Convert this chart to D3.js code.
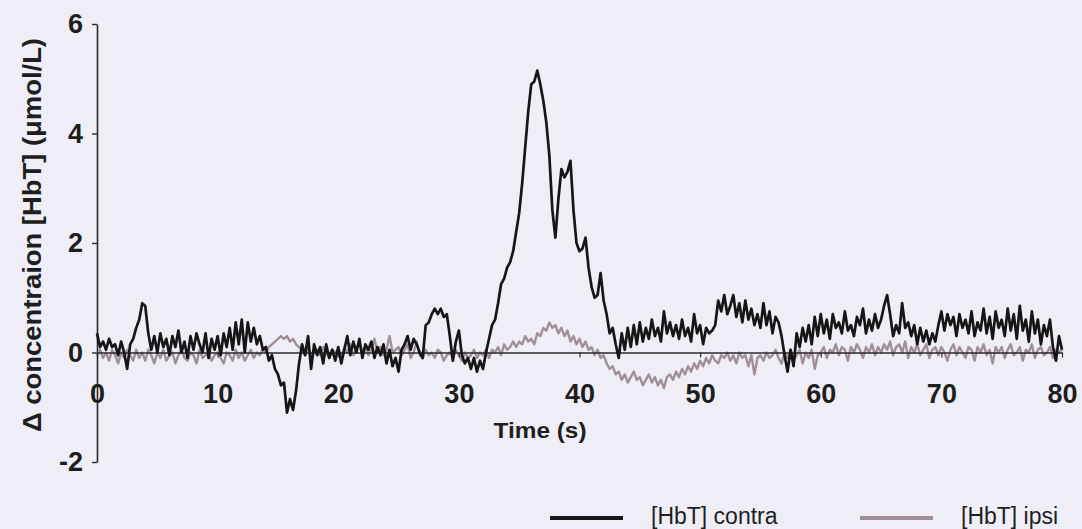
<!DOCTYPE html>
<html>
<head>
<meta charset="utf-8">
<script src="https://cdn.jsdelivr.net/npm/d3@7"></script>
<style>
    body { margin: 0; background: #efeef6; }
    svg { display: block; font-family: "Liberation Sans", Arial, sans-serif; }
    .tick text { font-weight: bold; fill: #1e1e1e; }
</style>
</head>
<body>
<svg></svg>
<script>
// time step of the recording (s)
let dt = 0.25;

// [HbT] contra, one value per 0.25 s, one row = 5 s
let contra = [
    0.35, 0.1, 0.2, 0.05, 0.25, 0.1, 0.15, -0.05, 0.2, 0.0, -0.3, 0.15, 0.25, 0.45, 0.6, 0.9, 0.85, 0.35, 0.05, 0.3,
    0.0, 0.35, 0.1, 0.25, -0.05, 0.3, 0.1, 0.4, 0.0, 0.2, -0.1, 0.3, 0.05, 0.35, 0.15, 0.0, 0.35, -0.1, 0.25, 0.05,
    0.3, -0.05, 0.35, 0.1, 0.45, 0.05, 0.55, 0.15, 0.6, 0.0, 0.55, 0.2, 0.45, 0.15, 0.3, 0.05, 0.1, -0.15, -0.05, -0.3,
    -0.4, -0.6, -0.55, -1.1, -0.85, -1.05, -0.7, -0.2, 0.15, -0.05, 0.3, -0.3, 0.15, -0.05, 0.1, -0.2, 0.15, -0.1, 0.05, -0.15,
    0.1, -0.2, 0.05, 0.3, -0.05, 0.2, 0.0, 0.25, -0.1, 0.15, 0.05, 0.2, -0.1, 0.1, -0.05, 0.15, -0.2, 0.05, -0.25, -0.1,
    -0.35, 0.05, 0.15, 0.3, 0.05, 0.25, 0.15, 0.0, -0.1, 0.5, 0.55, 0.7, 0.8, 0.7, 0.8, 0.65, 0.7, 0.3, -0.15, 0.2,
    0.4, -0.05, -0.2, -0.1, -0.3, -0.1, -0.35, -0.15, -0.3, 0.0, 0.25, 0.5, 0.6, 0.9, 1.25, 1.35, 1.55, 1.65, 1.85, 2.2,
    2.55, 3.1, 3.75, 4.4, 4.9, 4.95, 5.15, 4.9, 4.6, 4.2, 3.6, 2.6, 2.1, 2.8, 3.35, 3.2, 3.3, 3.5, 2.6, 2.0,
    1.85, 1.9, 2.1, 1.55, 1.2, 1.0, 1.05, 1.45, 0.95, 0.7, 0.35, 0.45, 0.15, -0.1, 0.35, 0.05, 0.45, 0.1, 0.5, 0.15,
    0.55, 0.2, 0.45, 0.25, 0.6, 0.3, 0.45, 0.2, 0.75, 0.35, 0.55, 0.3, 0.5, 0.25, 0.6, 0.3, 0.45, 0.2, 0.7, 0.35,
    0.5, 0.15, 0.45, 0.35, 0.4, 0.5, 0.95, 0.75, 1.05, 0.7, 0.85, 1.05, 0.65, 0.9, 0.55, 0.95, 0.6, 0.8, 0.5, 0.7,
    0.45, 0.9, 0.5, 0.75, 0.35, 0.65, 0.55, 0.3, -0.05, -0.35, 0.05, -0.25, 0.35, 0.1, 0.45, 0.2, 0.5, 0.15, 0.65, 0.3,
    0.7, 0.35, 0.6, 0.25, 0.7, 0.45, 0.55, 0.35, 0.75, 0.4, 0.5, 0.3, 0.65, 0.5, 0.8, 0.35, 0.6, 0.4, 0.7, 0.45,
    0.6, 0.85, 1.05, 0.7, 0.3, 0.5, 0.35, 0.9, 0.45, 0.55, 0.3, 0.5, 0.15, 0.45, 0.2, 0.4, 0.15, 0.35, 0.2, 0.5,
    0.75, 0.4, 0.7, 0.5, 0.65, 0.3, 0.7, 0.45, 0.6, 0.35, 0.75, 0.3, 0.55, 0.4, 0.8, 0.35, 0.65, 0.25, 0.75, 0.45,
    0.6, 0.3, 0.8, 0.4, 0.7, 0.25, 0.85, 0.4, 0.6, 0.2, 0.75, 0.35, 0.6, 0.15, 0.5, 0.3, 0.6, 0.1, -0.15, 0.3,
    0.05
];

// [HbT] ipsi, same time base
let ipsi = [
    -0.05, 0.05, -0.1, 0.0, -0.15, 0.05, -0.05, -0.2, 0.0, -0.1, 0.05, -0.05, -0.15, 0.05, -0.1, 0.0, -0.15, 0.05, -0.05, -0.2,
    0.0, -0.1, 0.05, -0.15, -0.05, 0.0, -0.2, -0.05, 0.05, -0.1, -0.15, 0.0, -0.05, -0.2, 0.05, -0.1, -0.05, 0.0, -0.15, -0.05,
    0.0, -0.1, -0.2, 0.0, -0.05, -0.15, 0.05, -0.1, 0.0, -0.15, -0.05, 0.05, -0.1, 0.0, -0.05, 0.05, 0.0, 0.1, 0.15, 0.2,
    0.25, 0.3, 0.25, 0.3, 0.2, 0.25, 0.15, 0.1, 0.05, -0.05, 0.1, -0.1, 0.0, 0.05, -0.05, 0.1, 0.0, -0.1, 0.05, 0.0,
    0.05, -0.1, 0.1, 0.0, 0.15, -0.05, 0.05, 0.2, 0.0, 0.1, -0.05, 0.05, 0.25, 0.0, 0.1, -0.05, 0.05, 0.3, 0.0, 0.05,
    0.1, -0.05, 0.05, 0.15, -0.1, 0.0, 0.2, -0.05, -0.1, 0.05, -0.05, 0.0, -0.1, 0.05, 0.0, -0.15, -0.05, 0.0, -0.1, 0.05,
    -0.05, -0.15, 0.0, -0.1, -0.05, 0.05, -0.1, 0.0, -0.05, 0.05, -0.1, 0.05, 0.0, 0.1, -0.05, 0.15, 0.05, 0.1, 0.2, 0.1,
    0.2, 0.15, 0.3, 0.2, 0.25, 0.15, 0.35, 0.3, 0.45, 0.4, 0.55, 0.45, 0.5, 0.35, 0.45, 0.3, 0.4, 0.2, 0.3, 0.15,
    0.25, 0.1, 0.2, 0.05, 0.1, -0.05, 0.05, -0.1, -0.05, -0.2, -0.3, -0.25, -0.4, -0.35, -0.5, -0.4, -0.55, -0.45, -0.35, -0.5,
    -0.45, -0.6, -0.5, -0.4, -0.55, -0.45, -0.6, -0.5, -0.65, -0.45, -0.4, -0.5, -0.35, -0.45, -0.3, -0.4, -0.25, -0.35, -0.2, -0.3,
    -0.15, -0.25, -0.1, -0.2, -0.05, -0.15, -0.2, -0.05, -0.1, 0.0, -0.15, -0.05, -0.2, 0.0, -0.1, -0.05, -0.25, -0.05, -0.4, -0.1,
    -0.05, -0.15, 0.0, -0.1, -0.05, 0.05, -0.1, -0.2, 0.0, -0.1, 0.05, -0.15, -0.05, 0.05, -0.2, 0.0, -0.1, 0.05, -0.3, -0.05,
    0.0, 0.1, -0.1, 0.05, 0.0, 0.15, -0.05, 0.1, 0.05, -0.15, 0.1, 0.0, 0.15, 0.05, -0.1, 0.1, 0.0, 0.15, -0.05, 0.1,
    0.0, 0.15, 0.05, 0.2, -0.05, 0.1, 0.15, 0.0, 0.2, -0.1, 0.1, 0.0, 0.15, -0.05, 0.05, 0.15, -0.1, 0.05, 0.1, -0.05,
    0.1, 0.0, -0.15, 0.05, 0.15, -0.05, 0.1, 0.0, -0.1, 0.1, 0.05, -0.15, 0.1, 0.0, 0.15, -0.05, 0.05, -0.2, 0.1, 0.0,
    0.1, -0.1, 0.05, 0.15, -0.05, 0.0, 0.1, -0.15, 0.05, 0.0, 0.15, -0.1, 0.05, 0.1, -0.05, 0.0, 0.1, -0.1, 0.05, 0.0,
    0.05
];

let xTicks = [0, 10, 20, 30, 40, 50, 60, 70, 80];
let yTicks = [-2, 0, 2, 4, 6];
let seriesNames = ["[HbT] contra", "[HbT] ipsi"];
let seriesColors = ["#161616", "#a08e9a"];

let width = 1082;
let height = 529;

let svg = d3.select("svg")
    .attr("width", width)
    .attr("height", height);

let scaleX = d3.scaleLinear().domain([0, 80]).range([97, 1062]);
let scaleY = d3.scaleLinear().domain([-2, 6]).range([462, 24]);

// y axis, plain hyphen for negatives like the original
svg.append("g")
    .attr("transform", `translate(${scaleX(0)}, 0)`)
    .call(d3.axisLeft(scaleY).tickValues(yTicks).tickFormat(d => String(d))
        .tickSize(5).tickSizeOuter(0).tickPadding(9))
    .call(g => g.select(".domain").attr("stroke", "#2a2a2a").attr("stroke-width", 1.6))
    .call(g => g.selectAll(".tick line").attr("stroke", "#2a2a2a").attr("stroke-width", 1.4))
    .selectAll("text")
    .attr("font-size", 27);

// lines
let line = d3.line()
    .x((d, i) => scaleX(i * dt))
    .y(d => scaleY(d));

svg.append("path")
    .datum(ipsi)
    .attr("fill", "none")
    .attr("stroke", seriesColors[1])
    .attr("stroke-width", 2.4)
    .attr("stroke-linejoin", "round")
    .attr("d", line);

// x axis sits on zero
svg.append("g")
    .attr("transform", `translate(0, ${scaleY(0)})`)
    .call(d3.axisBottom(scaleX).tickValues(xTicks).tickSize(5).tickSizeOuter(0).tickPadding(26))
    .call(g => g.select(".domain").attr("stroke", "#2a2a2a").attr("stroke-width", 1.4))
    .call(g => g.selectAll(".tick line").attr("stroke", "#2a2a2a").attr("stroke-width", 1.2))
    .selectAll("text")
    .attr("font-size", 27);

svg.append("path")
    .datum(contra)
    .attr("fill", "none")
    .attr("stroke", seriesColors[0])
    .attr("stroke-width", 2.7)
    .attr("stroke-linejoin", "round")
    .attr("d", line);

// axis titles
svg.append("text")
    .attr("transform", "translate(41, 235) rotate(-90)")
    .attr("text-anchor", "middle")
    .attr("font-size", 25)
    .attr("font-weight", "bold")
    .attr("fill", "#1e1e1e")
    .attr("textLength", 394)
    .attr("lengthAdjust", "spacingAndGlyphs")
    .text("Δ concentraion [HbT] (μmol/L)");

svg.append("text")
    .attr("x", 540)
    .attr("y", 438)
    .attr("text-anchor", "middle")
    .attr("font-size", 22)
    .attr("font-weight", "bold")
    .attr("fill", "#1e1e1e")
    .attr("textLength", 93)
    .attr("lengthAdjust", "spacingAndGlyphs")
    .text("Time (s)");

// legend
let legendX = [550, 860];
let legend = svg.append("g");
seriesNames.forEach(function (name, i) {
    legend.append("line")
        .attr("x1", legendX[i])
        .attr("x2", legendX[i] + 73)
        .attr("y1", 518)
        .attr("y2", 518)
        .attr("stroke", seriesColors[i])
        .attr("stroke-width", 4);
    legend.append("text")
        .attr("x", legendX[i] + 101)
        .attr("y", 524)
        .attr("font-size", 23)
        .attr("fill", "#1e1e1e")
        .text(name);
});
</script>
</body>
</html>
